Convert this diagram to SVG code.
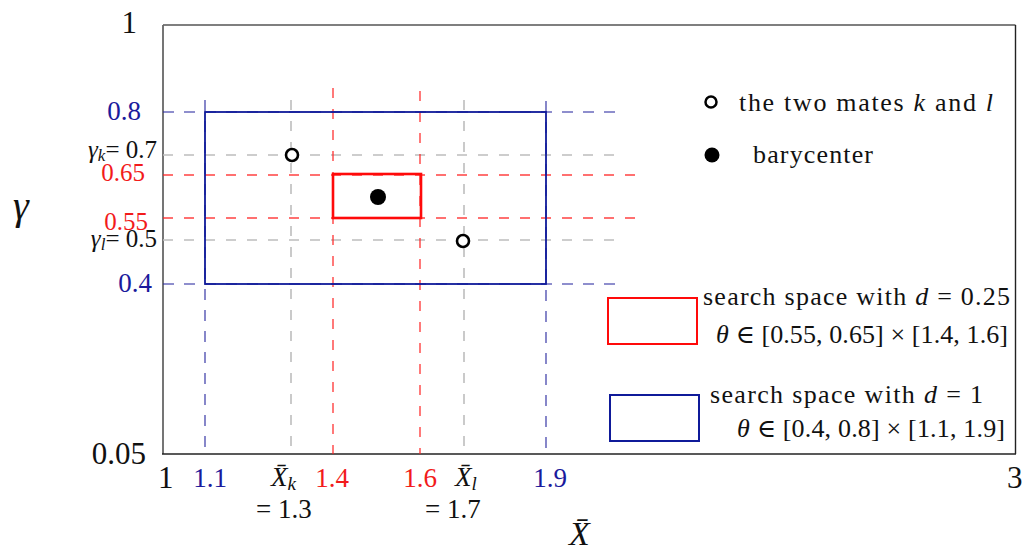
<svg xmlns="http://www.w3.org/2000/svg" width="1028" height="555" viewBox="0 0 1028 555">
<style>
text{font-family:"Liberation Serif","DejaVu Serif",serif;fill:#111}
.i{font-style:italic}
.big{font-size:31px}
.tk{font-size:27px}
.ty{font-size:25px}
.lg{font-size:26px}
.blue{fill:#1a1a9c}
.red{fill:#f21b1b}
.db{stroke:#2a2aa0;stroke-opacity:0.7;stroke-width:1.6;stroke-dasharray:11 10;fill:none}
.dg{stroke:#bdbdbd;stroke-width:1.6;stroke-dasharray:10 11;fill:none}
.dr{stroke:#ff2020;stroke-opacity:0.85;stroke-width:1.4;stroke-dasharray:10 11;fill:none}
</style>
<rect width="1028" height="555" fill="#fff"/>
<g id="frame">
<line x1="163" y1="25" x2="1015.5" y2="25" stroke="#555" stroke-width="1.6"/>
<line x1="163" y1="25" x2="163" y2="454" stroke="#666" stroke-width="1.8"/>
<line x1="162" y1="454" x2="1016" y2="454" stroke="#222" stroke-width="1.6"/>
<line x1="1015.5" y1="25" x2="1015.5" y2="454" stroke="#222" stroke-width="1.4"/>
</g>
<g id="connectors">
<line class="db" x1="163" y1="112" x2="620" y2="112"/>
<line class="dg" x1="163" y1="155" x2="625" y2="155"/>
<line class="dr" x1="163" y1="175" x2="637" y2="175"/>
<line class="dr" x1="163" y1="218" x2="637" y2="218"/>
<line class="dg" x1="163" y1="240" x2="620" y2="240"/>
<line class="db" x1="163" y1="284" x2="622" y2="284"/>
<line class="db" x1="205" y1="100" x2="205" y2="454"/>
<line class="dg" x1="291" y1="100" x2="291" y2="454"/>
<line class="dr" x1="333" y1="88" x2="333" y2="454"/>
<line class="dr" x1="420" y1="91" x2="420" y2="454"/>
<line class="dg" x1="464" y1="100" x2="464" y2="454"/>
<line class="db" x1="546" y1="101" x2="546" y2="454"/>
</g>
<g id="blue-box"><rect x="205" y="112" width="341" height="172" fill="none" stroke="#0f1a99" stroke-width="1.8"/></g>
<g id="red-box"><rect x="333" y="174" width="88" height="44" fill="none" stroke="#ff0a0a" stroke-width="2.6"/></g>
<g id="mate-k"><circle cx="292" cy="155" r="6" fill="#fff" stroke="#000" stroke-width="2.6"/></g>
<g id="mate-l"><circle cx="463" cy="241" r="6" fill="#fff" stroke="#000" stroke-width="2.6"/></g>
<g id="barycenter"><circle cx="378" cy="197" r="8" fill="#000"/></g>
<g id="y-labels">
<text class="big" x="137" y="33" text-anchor="end">1</text>
<text class="big" x="146" y="464" text-anchor="end">0.05</text>
<text class="tk blue" x="141" y="120" text-anchor="end">0.8</text>
<text class="tk blue" x="152" y="292" text-anchor="end">0.4</text>
<text class="ty red" x="145" y="181" text-anchor="end">0.65</text>
<text class="ty red" x="148" y="230" text-anchor="end">0.55</text>
<text class="ty" x="157" y="158" text-anchor="end"><tspan class="i">γ</tspan><tspan class="i" font-size="17" dy="3">k</tspan><tspan dy="-3">= 0.7</tspan></text>
<text class="ty" x="157" y="247" text-anchor="end"><tspan class="i">γ</tspan><tspan class="i" font-size="17" dy="3">l</tspan><tspan dy="-3">= 0.5</tspan></text>
<text class="i" x="13" y="219" font-size="40">γ</text>
</g>
<g id="x-labels">
<text class="big" x="158" y="488">1</text>
<text class="big" x="1007" y="488">3</text>
<text class="tk blue" x="210" y="487" text-anchor="middle">1.1</text>
<text class="tk red" x="332" y="487" text-anchor="middle">1.4</text>
<text class="tk red" x="420" y="487" text-anchor="middle">1.6</text>
<text class="tk blue" x="550" y="487" text-anchor="middle">1.9</text>
<text class="tk" x="271" y="486"><tspan class="i">X&#x304;</tspan><tspan class="i" font-size="19" dy="4">k</tspan></text>
<text class="tk" x="256" y="518">= 1.3</text>
<text class="tk" x="455" y="486"><tspan class="i">X&#x304;</tspan><tspan class="i" font-size="19" dy="4">l</tspan></text>
<text class="tk" x="425" y="518">= 1.7</text>
<text class="i" x="569" y="545" font-size="34">X&#x304;</text>
</g>
<g id="legend-mates">
<circle cx="711" cy="102" r="5.5" fill="#fff" stroke="#000" stroke-width="2.5"/>
<text class="lg" x="739" y="111" textLength="254"><tspan>the two mates </tspan><tspan class="i">k</tspan><tspan> and </tspan><tspan class="i">l</tspan></text>
</g>
<g id="legend-barycenter">
<circle cx="712" cy="155" r="7.5" fill="#000"/>
<text class="lg" x="753" y="163" textLength="120">barycenter</text>
</g>
<g id="legend-red">
<rect x="608" y="298" width="89" height="46" fill="none" stroke="#ff0a0a" stroke-width="2"/>
<text class="lg" x="703" y="305" textLength="307">search space with <tspan class="i">d</tspan> = 0.25</text>
<text class="lg" x="716" y="343" textLength="292"><tspan class="i">θ</tspan> ∈ [0.55, 0.65] × [1.4, 1.6]</text>
</g>
<g id="legend-blue">
<rect x="610" y="395" width="89" height="46" fill="none" stroke="#0f1a99" stroke-width="2"/>
<text class="lg" x="710" y="403" textLength="273">search space with <tspan class="i">d</tspan> = 1</text>
<text class="lg" x="737" y="437" textLength="268"><tspan class="i">θ</tspan> ∈ [0.4, 0.8] × [1.1, 1.9]</text>
</g>
</svg>
